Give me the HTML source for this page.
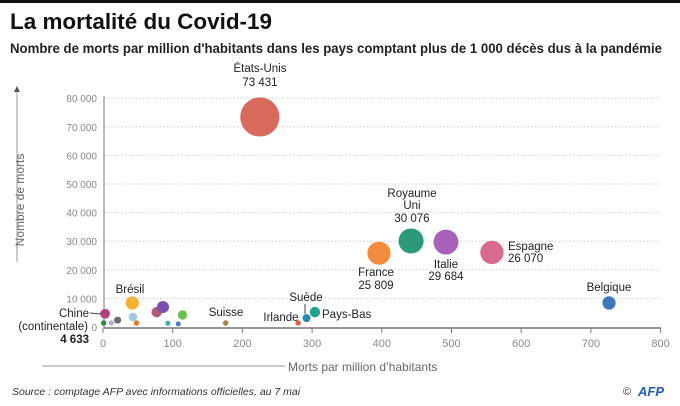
<!DOCTYPE html>
<html><head><meta charset="utf-8"><style>
body{margin:0;background:#fff;width:680px;height:406px;overflow:hidden;font-family:"Liberation Sans",sans-serif}
svg{display:block}
</style></head><body>
<svg id="chart" width="680" height="406">
<rect x="0" y="0" width="680" height="3" fill="#111"/>
<text x="10" y="29" font-size="22" font-weight="bold" fill="#111" textLength="262" lengthAdjust="spacingAndGlyphs">La mortalité du Covid-19</text>
<text x="10" y="53" font-size="13.5" font-weight="bold" fill="#222" textLength="652" lengthAdjust="spacingAndGlyphs">Nombre de morts par million d'habitants dans les pays comptant plus de 1 000 décès dus à la pandémie</text>
<g id="grid"></g><g id="axes"></g><g id="marks"></g><g id="labels"></g>
<line x1="17" y1="262" x2="17" y2="90" stroke="#999"/>
<path d="M14,92 L17,86 L20,92 Z" fill="#555"/>
<text transform="translate(24,200) rotate(-90)" font-size="12" fill="#666" text-anchor="middle">Nombre de morts</text>
<line x1="42" y1="366" x2="285" y2="366" stroke="#999"/>
<text x="288" y="371" font-size="12" fill="#666">Morts par million d’habitants</text>
<text x="12" y="395" font-size="10.5" font-style="italic" fill="#333">Source : comptage AFP avec informations officielles, au 7 mai</text>
<text x="623" y="395" font-size="11" fill="#333">©</text>
<text x="638" y="396" font-size="13" font-weight="bold" font-style="italic" fill="#1d5cc4">AFP</text>
</svg>
<script>
const countries=["États-Unis","Royaume Uni","Italie","Espagne","France","Belgique","Chine","c2","c3","c4","Brésil","c6","c7","c8","c9","c10","c11","c12","Suisse","Irlande","Suède","Pays-Bas"];
const perMillion=[225,442,492,558,396,726,3,1,12,21,42,43,48,77,86,93,108,114,176,280,292,304];
const deaths=[73431,30076,29684,26070,25809,8415,4633,1400,1400,2400,8400,3500,1400,5200,7000,1300,1100,4200,1400,1400,3100,5200];
const colors=["#d9695a","#2a9a7a","#a860b8","#d86a8e","#f28c3c","#3a78b8","#b5417f","#2a8a4a","#bba9d8","#6b6b6b","#f5b335","#9fc9e6","#e07b2a","#b05a78","#7b4fb0","#3fb5a8","#4a7cc2","#6bbf4e","#a0824a","#e0604a","#2a8ab8","#20a090"];
const xTicks=[0,100,200,300,400,500,600,700,800];
const yTicks=[0,10000,20000,30000,40000,50000,60000,70000,80000];
const yTickLabels=["0","10 000","20 000","30 000","40 000","50 000","60 000","70 000","80 000"];
const NS="http://www.w3.org/2000/svg";
const xs=v=>103+v*0.697, ys=v=>327-v*0.00286, rs=v=>0.0722*Math.sqrt(v);
function mk(t,a,p){const e=document.createElementNS(NS,t);for(const k in a)e.setAttribute(k,a[k]);p.appendChild(e);return e;}
const g=document.getElementById('grid'),ax=document.getElementById('axes'),m=document.getElementById('marks'),lb=document.getElementById('labels');
yTicks.forEach((t,i)=>{
 if(t>0){const l=mk('line',{x1:104,x2:660,y1:ys(t),y2:ys(t),stroke:'#ccc','stroke-dasharray':'1.5,2'},g);
 
 }
 const tx=mk('text',{x:97,y:ys(t)+4,'font-size':10,fill:'#888','text-anchor':'end'},ax);tx.textContent=yTickLabels[i];
 
 
});
mk('line',{x1:104,x2:104,y1:ys(80000)-2,y2:328,stroke:'#777'},ax);
const xl=mk('line',{x1:104,x2:661,y1:328,y2:328,stroke:'#777','stroke-width':1.5},ax);


xTicks.forEach(t=>{
 mk('line',{x1:xs(t),x2:xs(t),y1:328,y2:333,stroke:'#777'},ax);
 const tx=mk('text',{x:xs(t),y:347,'font-size':11,fill:'#888','text-anchor':'middle'},ax);tx.textContent=t;
 
 
});
countries.forEach((c,i)=>{
 const ci=mk('circle',{cx:xs(perMillion[i]),cy:ys(deaths[i]),r:Math.max(2.5,rs(deaths[i])),fill:colors[i]},m);
 
 
});
const labs=[[260,72,"middle","États-Unis"],[260,86,"middle","73 431"],[412,197,"middle","Royaume"],[412,209,"middle","Uni"],[412,222,"middle","30 076"],
[446,268,"middle","Italie"],[446,280,"middle","29 684"],[508,250,"start","Espagne"],[508,262,"start","26 070"],[376,276,"middle","France"],[376,289,"middle","25 809"],
[609,291,"middle","Belgique"],[130,293,"middle","Brésil"],[89,317,"end","Chine"],[88,330,"end","(continentale)"],[89,343,"end","4 633"],
[226,316,"middle","Suisse"],[281,321,"middle","Irlande"],[306,301,"middle","Suède"],[322,318,"start","Pays-Bas"]];
labs.forEach(l=>{const t=mk('text',{x:l[0],y:l[1],'font-size':11.5,fill:'#222','text-anchor':l[2]},lb);t.textContent=l[3];
 if(l[3]==="4 633")t.setAttribute('font-weight','bold');
 
 });
mk('line',{x1:90,y1:313,x2:101,y2:314,stroke:'#444'},lb);
mk('line',{x1:305,y1:304,x2:305,y2:314,stroke:'#444'},lb);
</script>
</body></html>
